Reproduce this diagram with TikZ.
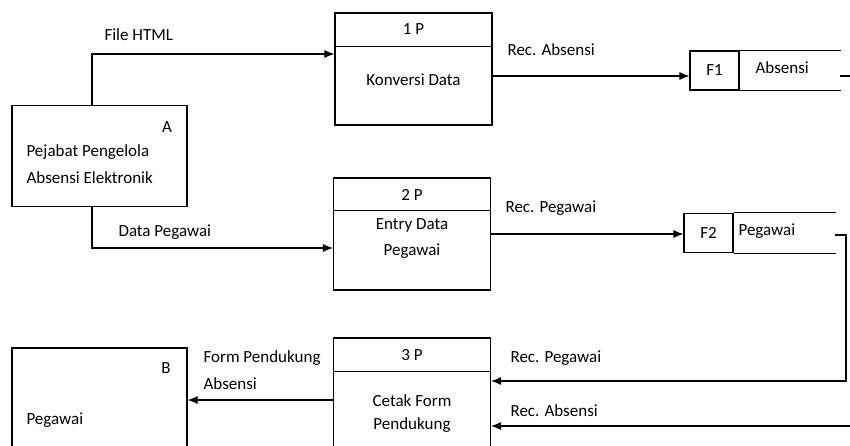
\documentclass[tikz,border=0pt]{standalone}
\usepackage{fontspec}
\setmainfont{Carlito}
\usetikzlibrary{arrows.meta}

\begin{document}
\begin{tikzpicture}[x=1pt,y=-1pt,line width=1.1pt,
            every node/.style={font=\fontsize{17}{20}\selectfont},
            entity/.style={draw,minimum width=175pt,minimum height=101pt,inner sep=0pt},
            proc/.style={draw,minimum width=157pt,minimum height=112pt,inner sep=0pt},
            fid/.style={draw,minimum width=49pt,minimum height=39pt,inner sep=0pt},
            lbl/.style={inner sep=0pt},
            flow/.style={-{Latex[length=10pt,width=8pt]}}]
  \useasboundingbox (0,0) rectangle (850,446);
  % external entities
  \node[entity] (pa) at (99.5,156) {};
  \node[lbl,right] (pan) at (26,152) {Pejabat Pengelola};
  \node[lbl,right] (pan2) at (26,178) {Absensi Elektronik};
  \node[lbl] (paid) at (167,127) {A};
  \node[entity] (pb) at (99.5,398.5) {};
  \node[lbl] (pbid) at (166,368) {B};
  \node[lbl,right] (pbn) at (26,420) {Pegawai};
  % processes
  \node[proc] (p1) at (413.5,69) {};
  \draw ([yshift=-34pt]p1.north west) -- ([yshift=-34pt]p1.north east);
  \node[lbl] (p1id) at (413.5,29) {1 P};
  \node[lbl] (p1n) at (413.5,80) {Konversi Data};
  \node[proc] (p2) at (412,234) {};
  \draw ([yshift=-33pt]p2.north west) -- ([yshift=-33pt]p2.north east);
  \node[lbl] (p2id) at (412,195) {2 P};
  \node[lbl] (p2n) at (412,225) {Entry Data};
  \node[lbl] (p2n2) at (412,251) {Pegawai};
  \node[proc] (p3) at (412,394) {};
  \draw ([yshift=-34pt]p3.north west) -- ([yshift=-34pt]p3.north east);
  \node[lbl] (p3id) at (412,355) {3 P};
  \node[lbl] (p3n) at (412,401) {Cetak Form};
  \node[lbl] (p3n2) at (412,425) {Pendukung};
  % data stores
  \node[fid] (f1) at (714.5,70.5) {F1};
  \draw (f1.north east) -- ++(101,0) (f1.south east) -- ++(101,0);
  \node[lbl,right] (f1n) at (755,68) {Absensi};
  \node[fid] (f2) at (708.5,233) {F2};
  \draw (f2.north east) -- ++(102,0) (f2.south east) -- ++(102,0);
  \node[lbl,right] (f2n) at (738,231) {Pegawai};
  % flows
  \draw[flow] ([xshift=-7.5pt]pa.north) |- ([yshift=15pt]p1.west);
  \node[lbl,right] (lhtml) at (104,35) {File HTML};
  \draw[flow] ([xshift=-7.5pt]pa.south) |- ([yshift=-14pt]p2.west);
  \node[lbl,right] (ldata) at (118,232) {Data Pegawai};
  \draw[flow] ([yshift=-7pt]p1.east) -- ([yshift=-7pt]p1.east -| f1.west);
  \node[lbl,right] (labs1) at (507,50) {Rec. Absensi};
  \draw[flow] (p2.east) -- (p2.east -| f2.west);
  \node[lbl,right] (lpeg1) at (505,208) {Rec. Pegawai};
  \coordinate (s1) at (840,76);
  \coordinate (o1) at (852,76);
  \draw (s1) -- (o1);
  \coordinate (s2) at (835,235);
  \coordinate (k2) at (846,235);
  \draw[flow] (s2) -- (k2) |- ([yshift=13pt]p3.east);
  \node[lbl,right] (lpeg2) at (510,358) {Rec. Pegawai};
  \coordinate (o3) at (852,426);
  \draw[flow] (o3) -- (o3 -| p3.east);
  \node[lbl,right] (labs2) at (510,411) {Rec. Absensi};
  \draw[flow] ([yshift=-6pt]p3.west) -- ([yshift=-6pt]p3.west -| pb.east);
  \node[lbl,right] (lform) at (203,358) {Form Pendukung};
  \node[lbl,right] (lform2) at (203,384) {Absensi};
\end{tikzpicture}
\end{document}
